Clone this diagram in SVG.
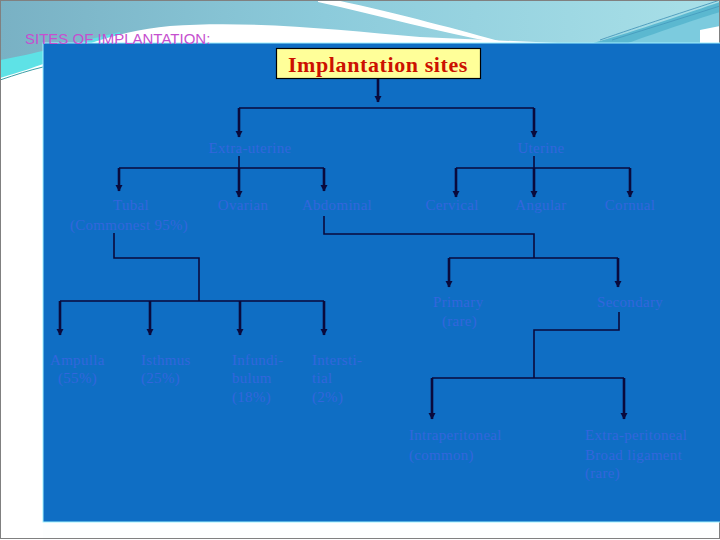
<svg xmlns="http://www.w3.org/2000/svg" width="720" height="540" viewBox="0 0 720 540">
<defs>
<linearGradient id="hdr" x1="0" y1="0" x2="1" y2="0">
<stop offset="0" stop-color="#79b1c4"/>
<stop offset="0.45" stop-color="#8ccbdb"/>
<stop offset="1" stop-color="#a9e0e8"/>
</linearGradient>
<marker id="ah" markerUnits="userSpaceOnUse" markerWidth="7" markerHeight="8" refX="6" refY="4" orient="auto" viewBox="0 0 7 8">
<path d="M0 0.5 L6.5 4 L0 7.5 Z" fill="#0a0a3c"/>
</marker>
<style>
.t{font-family:"Liberation Serif","Times New Roman",serif;font-size:15px;fill:#3366dc;letter-spacing:0.3px}
.m{text-anchor:middle}
.ln{fill:none;stroke:#0a0a3c;stroke-width:1.6}
.ar{fill:none;stroke:#0a0a3c;stroke-width:2.6;marker-end:url(#ah)}
</style>
</defs>
<rect x="0" y="0" width="720" height="540" fill="#fdfefe"/>
<rect x="0" y="0" width="720" height="80" fill="url(#hdr)"/>
<path d="M0 60 C30 55 70 44 120 32 L120 44 L0 90 Z" fill="#5ee2e6"/>
<path d="M0 78 C20 72 35 67 43 64 C70 50 110 32 170 26 C250 20 340 30 420 37 L580 44 L43 44 L43 540 L0 540 Z" fill="#ffffff"/>
<path d="M0 80 C15 75 30 70 43 67" fill="none" stroke="#3a9ea6" stroke-width="1"/>
<path d="M318 0 L336 0 C400 14 460 30 506 43 L498 43 C440 32 380 16 318 2 Z" fill="#ffffff"/>
<path d="M590 44 C640 30 690 12 720 2 L720 44 Z" fill="#5bb8d0"/>
<path d="M625 44 C665 30 700 18 720 12 L720 44 Z" fill="#7ccbde"/>
<path d="M700 44 L700 30 L720 26 L720 44 Z" fill="#ffffff"/>
<path d="M600 40 C640 26 690 10 720 0" fill="none" stroke="#3d8fb5" stroke-width="0.8"/>
<path d="M612 40 C650 28 695 14 720 6" fill="none" stroke="#3d8fb5" stroke-width="0.6"/>
<rect x="0.5" y="0.5" width="719" height="538" fill="none" stroke="#808080" stroke-width="1"/>
<rect x="43" y="43" width="678" height="479" fill="#0f6ec4" stroke="#9ff2ff" stroke-width="1"/>
<text x="25" y="44" style="font-family:'Liberation Sans',Arial,sans-serif;font-size:15px;fill:#c64fcf">SITES OF IMPLANTATION:</text>
<g id="connectors">
<path class="ar" d="M378 78 V102"/>
<path class="ln" d="M239 108 H534"/>
<path class="ar" d="M239 108 V137"/>
<path class="ar" d="M534 108 V137"/>
<path class="ln" d="M239 156 V168"/>
<path class="ln" d="M119 168 H324"/>
<path class="ar" d="M119 168 V191"/>
<path class="ar" d="M239 168 V197"/>
<path class="ar" d="M324 168 V191"/>
<path class="ln" d="M534 156 V168"/>
<path class="ln" d="M456 168 H630"/>
<path class="ar" d="M456 168 V197"/>
<path class="ar" d="M534 168 V197"/>
<path class="ar" d="M630 168 V197"/>
<path class="ln" d="M114 233 V258 H199 V301"/>
<path class="ln" d="M60 301 H324"/>
<path class="ar" d="M60 301 V335"/>
<path class="ar" d="M150 301 V335"/>
<path class="ar" d="M240 301 V335"/>
<path class="ar" d="M324 301 V335"/>
<path class="ln" d="M324 216 V234 H534 V258"/>
<path class="ln" d="M449 258 H618"/>
<path class="ar" d="M449 258 V287"/>
<path class="ar" d="M618 258 V287"/>
<path class="ln" d="M619 312 V330 H534 V378"/>
<path class="ln" d="M432 378 H624"/>
<path class="ar" d="M432 378 V419"/>
<path class="ar" d="M624 378 V419"/>
</g>
<g id="root">
<rect x="276.5" y="48.5" width="204" height="30" fill="#ffff99" stroke="#000000" stroke-width="1.2"/>
<text x="378" y="72" text-anchor="middle" style="font-family:'Liberation Serif','Times New Roman',serif;font-size:22px;font-weight:bold;fill:#cc1100;letter-spacing:0.6px">Implantation sites</text>
</g>
<g id="extra-uterine"><text class="t m" x="250" y="153">Extra-uterine</text></g>
<g id="uterine"><text class="t m" x="541" y="153">Uterine</text></g>
<g id="tubal"><text class="t m" x="131" y="210">Tubal</text><text class="t m" x="129" y="230">(Commonest 95%)</text></g>
<g id="ovarian"><text class="t m" x="243" y="210">Ovarian</text></g>
<g id="abdominal"><text class="t m" x="337" y="210">Abdominal</text></g>
<g id="cervical"><text class="t m" x="452" y="210">Cervical</text></g>
<g id="angular"><text class="t m" x="541" y="210">Angular</text></g>
<g id="cornual"><text class="t m" x="630" y="210">Cornual</text></g>
<g id="primary"><text class="t" x="433" y="307">Primary</text><text class="t" x="442" y="326">(rare)</text></g>
<g id="secondary"><text class="t m" x="630" y="307">Secondary</text></g>
<g id="ampulla"><text class="t" x="50" y="365">Ampulla</text><text class="t" x="58" y="383">(55%)</text></g>
<g id="isthmus"><text class="t" x="141" y="365">Isthmus</text><text class="t" x="141" y="383">(25%)</text></g>
<g id="infundibulum"><text class="t" x="232" y="365">Infundi-</text><text class="t" x="232" y="383">bulum</text><text class="t" x="232" y="402">(18%)</text></g>
<g id="interstitial"><text class="t" x="312" y="365">Intersti-</text><text class="t" x="312" y="383">tial</text><text class="t" x="312" y="402">(2%)</text></g>
<g id="intraperitoneal"><text class="t" x="409" y="440">Intraperitoneal</text><text class="t" x="409" y="460">(common)</text></g>
<g id="extraperitoneal"><text class="t" x="585" y="440">Extra-peritoneal</text><text class="t" x="585" y="460">Broad ligament</text><text class="t" x="585" y="478">(rare)</text></g>
</svg>
